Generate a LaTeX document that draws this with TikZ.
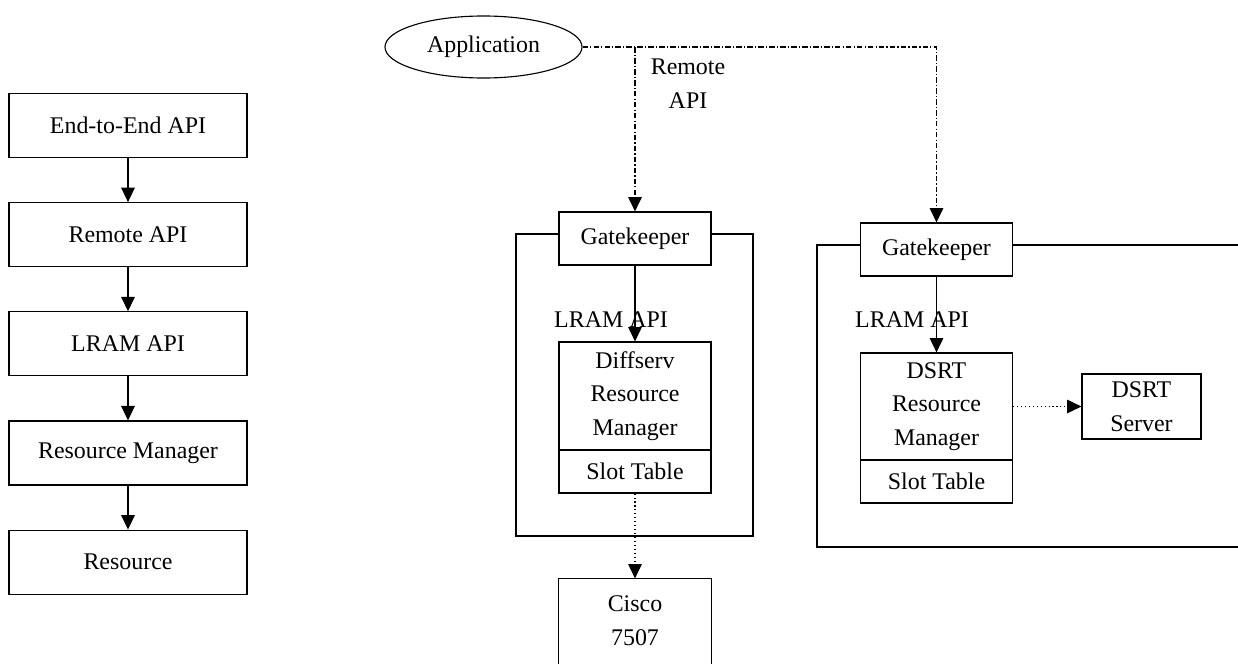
\documentclass[tikz,border=0pt]{standalone}
\usepackage{fontspec}
\setmainfont{Liberation Serif}
\usetikzlibrary{positioning, arrows.meta, shapes.geometric}

\begin{document}
\begin{tikzpicture}[
    x=0.025cm, y=-0.025cm,
    font=\fontsize{17}{24}\selectfont,
    line width=0.8pt,
    layer/.style={rectangle, draw=black, minimum width=5.95cm, minimum height=1.6cm, inner sep=0pt},
    block/.style={rectangle, draw=black, fill=white, minimum width=3.8cm, inner sep=0pt, align=center},
    link/.style={-{Triangle[length=0.36cm, width=0.34cm]}},
    apicall/.style={link, dash pattern=on 4pt off 1.5pt on 0.8pt off 1.5pt},
    probe/.style={link, dotted}
]
    \useasboundingbox (0,0) rectangle (1238,664);
    \clip (0,0) rectangle (1238,664);

    % layer stack on the left
    \node[layer] (e2e) at (128,125.5) {End-to-End API};
    \node[layer, below=1.1cm of e2e] (remote) {Remote API};
    \node[layer, below=1.1cm of remote] (lram) {LRAM API};
    \node[layer, below=1.1cm of lram] (rm) {Resource Manager};
    \node[layer, below=1.1cm of rm] (res) {Resource};
    \foreach \a/\b in {e2e/remote, remote/lram, lram/rm, rm/res}
        \draw[link] (\a) -- (\b);

    % application and remote calls
    \node[ellipse, draw=black, minimum width=4.925cm, minimum height=1.55cm, inner sep=0pt] (app) at (483.5,47) {Application};
    \node[align=center] (rlabel) at (688,84) {Remote\\API};

    % diffserv site
    \draw (516,234) rectangle (753,536);
    \node[block, minimum height=1.325cm] (gkA) at (635,238.5) {Gatekeeper};
    \node (lramA) at (611,320) {LRAM API};
    \node[block, minimum height=2.7cm] (rmA) at (635,396) {Diffserv\\Resource\\Manager};
    \node[block, minimum height=1.075cm, below=-0.8pt of rmA] (slotA) {Slot Table};
    \node[minimum width=3.8cm, minimum height=2.1cm, inner sep=0pt, align=center] (cisco) at (635,621) {Cisco\\7507};
    \draw ([yshift=-1cm]cisco.south west) -- (cisco.north west) -- (cisco.north east) -- ([yshift=-1cm]cisco.south east);

    % dsrt site
    \draw (1250,245) -| (817,547) -- (1250,547);
    \node[block, minimum height=1.325cm] (gkB) at (936.5,249.5) {Gatekeeper};
    \node (lramB) at (912,320) {LRAM API};
    \node[block, minimum height=2.675cm] (rmB) at (936.5,406.5) {DSRT\\Resource\\Manager};
    \node[block, minimum height=1.075cm, below=-0.8pt of rmB] (slotB) {Slot Table};
    \node[block, minimum width=2.975cm, minimum height=1.625cm] (srv) at (1141.5,406.5) {DSRT\\Server};

    \draw[link] (gkA) -- (rmA);
    \draw[link] (gkB) -- (rmB);
    \draw[probe] (slotA) -- (cisco);
    \draw[probe] (rmB) -- (srv);

    \coordinate (fork) at (gkA.north |- app.east);
    \draw[apicall] (app.east) -| (gkB.north);
    \draw[apicall] (fork) -- (gkA.north);
\end{tikzpicture}
\end{document}
